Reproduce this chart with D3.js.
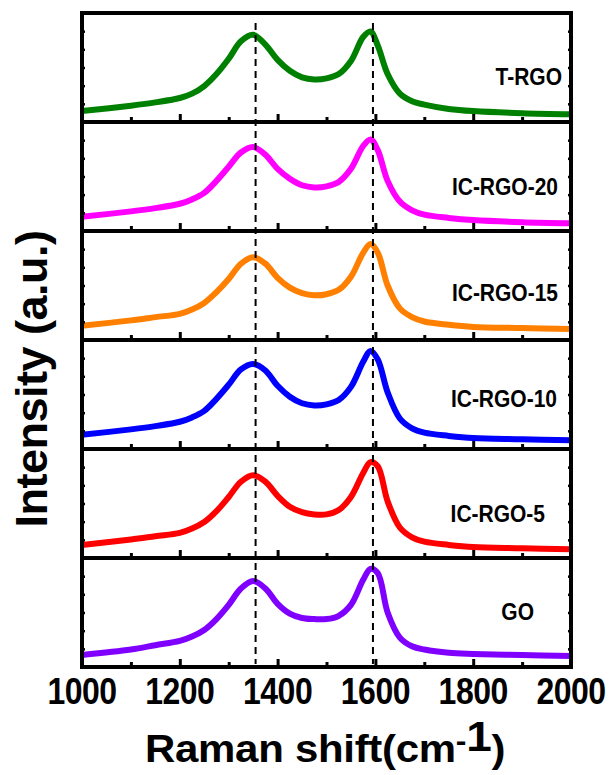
<!DOCTYPE html>
<html>
<head>
<meta charset="utf-8">
<script src="https://cdn.jsdelivr.net/npm/d3@7"></script>
<style>
  body { margin: 0; background: #fff; }
  text { font-family: "Liberation Sans", Arial, sans-serif; font-weight: bold; fill: #000; }
</style>
</head>
<body>
<div id="chart"></div>
<script>
// Raman spectra (intensity normalised to each panel)
const ramanShift = [1000, 1100, 1150, 1200, 1225, 1250, 1275, 1300, 1325, 1350, 1375, 1400, 1425, 1450, 1475, 1500,
                    1525, 1550, 1575, 1590, 1605, 1625, 1650, 1675, 1700, 1750, 1800, 1900, 2000];

const sampleNames = ["T-RGO", "IC-RGO-20", "IC-RGO-15", "IC-RGO-10", "IC-RGO-5", "GO"];
const sampleColors = ["#008000", "#ff00ff", "#ff8000", "#0000ff", "#ff0000", "#8000ff"];

const tRGO    = [.10, .15, .18, .22, .26, .33, .44, .58, .74, .80, .71, .57, .47, .41, .39, .40, .44, .56, .78, .83, .70, .44, .26, .19, .16, .12, .10, .08, .07];
const icRGO20 = [.13, .18, .21, .25, .29, .35, .46, .59, .72, .77, .70, .57, .48, .42, .40, .41, .45, .57, .78, .84, .74, .46, .27, .19, .15, .12, .10, .08, .07];
const icRGO15 = [.13, .18, .21, .24, .28, .34, .44, .56, .70, .76, .70, .57, .48, .43, .41, .42, .46, .58, .80, .88, .80, .50, .29, .21, .17, .14, .12, .11, .10];
const icRGO10 = [.13, .18, .21, .25, .29, .35, .46, .59, .73, .78, .72, .58, .48, .42, .40, .41, .45, .57, .80, .90, .82, .52, .28, .19, .15, .12, .10, .09, .08];
const icRGO5  = [.12, .17, .20, .23, .27, .33, .43, .56, .70, .76, .70, .57, .47, .42, .40, .40, .44, .56, .78, .88, .84, .52, .28, .19, .15, .12, .10, .09, .08];
const go      = [.11, .16, .20, .24, .28, .34, .44, .57, .72, .79, .72, .58, .49, .45, .44, .44, .47, .57, .80, .90, .86, .50, .27, .19, .16, .13, .12, .11, .10];
const sampleValues = [tRGO, icRGO20, icRGO15, icRGO10, icRGO5, go];

const peakLines = [1355, 1595];          // D and G band markers
const xTicks = [1000, 1200, 1400, 1600, 1800, 2000];

// layout
var width = 616, height = 775;
var plotL = 82, plotR = 571, plotT = 13, plotB = 667;
var panelH = (plotB - plotT) / sampleNames.length;
// label end x / baseline offset from panel top
var labelPos = [[562, 72], [558, 73], [558, 70], [557, 67], [545, 73], [534, 62]];

var svg = d3.select("#chart").append("svg")
  .attr("width", width)
  .attr("height", height);

var xScale = d3.scaleLinear().domain([1000, 2000]).range([plotL, plotR]);

var line = d3.line()
  .x((d, i) => xScale(ramanShift[i]))
  .curve(d3.curveCatmullRom.alpha(0.5));

sampleNames.forEach(function(name, k) {
  var y0 = plotT + k * panelH;
  var yScale = d3.scaleLinear().domain([0, 1]).range([y0 + panelH, y0]);

  svg.append("path")
    .datum(sampleValues[k])
    .attr("fill", "none")
    .attr("stroke", sampleColors[k])
    .attr("stroke-width", 6)
    .attr("d", line.y(d => yScale(d)));

  // bottom ticks pointing inward
  svg.append("g")
    .attr("transform", `translate(0,${y0 + panelH})`)
    .call(d3.axisTop(xScale).tickValues(xTicks).tickSize(8).tickFormat(""))
    .call(g => g.select(".domain").remove())
    .call(g => g.selectAll("line").attr("stroke-width", 3));
  svg.append("g")
    .attr("transform", `translate(0,${y0 + panelH})`)
    .call(d3.axisTop(xScale).tickValues(d3.range(1100, 2000, 200)).tickSize(5).tickFormat(""))
    .call(g => g.select(".domain").remove())
    .call(g => g.selectAll("line").attr("stroke-width", 3));

  // small side ticks
  var yt = [1 / 6, 2 / 6, 3 / 6, 4 / 6, 5 / 6];
  svg.append("g")
    .attr("transform", `translate(${plotL},0)`)
    .call(d3.axisRight(yScale).tickValues(yt).tickSize(3).tickFormat(""))
    .call(g => g.select(".domain").remove())
    .call(g => g.selectAll("line").attr("stroke-width", 2.5));
  svg.append("g")
    .attr("transform", `translate(${plotR},0)`)
    .call(d3.axisLeft(yScale).tickValues(yt).tickSize(3).tickFormat(""))
    .call(g => g.select(".domain").remove())
    .call(g => g.selectAll("line").attr("stroke-width", 2.5));

  svg.append("rect")
    .attr("x", plotL)
    .attr("y", y0)
    .attr("width", plotR - plotL)
    .attr("height", panelH)
    .attr("fill", "none")
    .attr("stroke", "#000")
    .attr("stroke-width", 4);

  svg.append("text")
    .attr("transform", `translate(${labelPos[k][0]},${y0 + labelPos[k][1]}) scale(1,1.15)`)
    .attr("text-anchor", "end")
    .style("font-size", "21px")
    .text(name);
});

// dashed peak markers
svg.selectAll(".peak")
  .data(peakLines)
  .enter()
  .append("line")
    .attr("class", "peak")
    .attr("x1", d => xScale(d))
    .attr("x2", d => xScale(d))
    .attr("y1", plotT + 10)
    .attr("y2", plotB - 3)
    .attr("stroke", "#000")
    .attr("stroke-width", 2)
    .attr("stroke-dasharray", "7,5");

// tick labels
svg.append("g")
  .selectAll("text")
  .data(xTicks)
  .enter()
  .append("text")
    .attr("transform", d => `translate(${xScale(d)},704) scale(1,1.15)`)
    .attr("text-anchor", "middle")
    .style("font-size", "32px")
    .style("letter-spacing", "-0.5px")
    .text(d => d);

// axis titles
var xt = svg.append("text")
  .attr("transform", "translate(145,762) scale(1,0.93)")
  .style("font-size", "42px")
  .style("letter-spacing", "-0.3px");
xt.append("tspan").text("Raman shift(cm");
xt.append("tspan").attr("dy", -12).style("font-size", "32px").text("-");
xt.append("tspan").style("font-size", "46px").text("1");
xt.append("tspan").attr("dy", 12).text(")");

svg.append("text")
  .attr("transform", "translate(47,379) rotate(-90)")
  .attr("text-anchor", "middle")
  .style("font-size", "45px")
  .style("letter-spacing", "-0.5px")
  .text("Intensity (a.u.)");
</script>
</body>
</html>
